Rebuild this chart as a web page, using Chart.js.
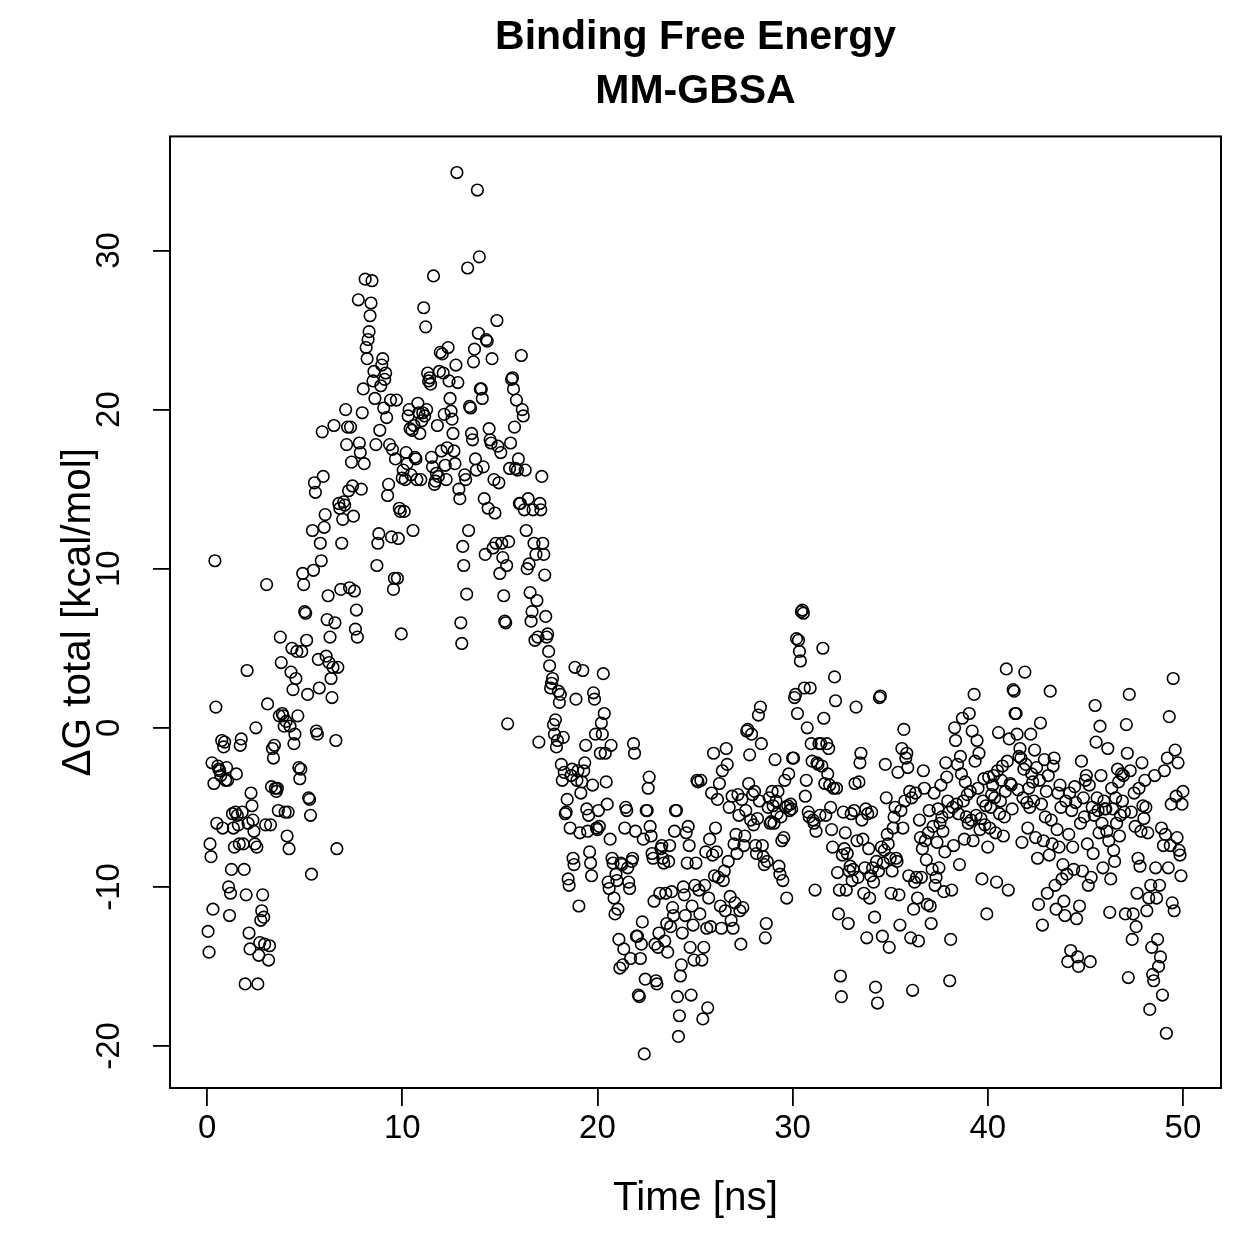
<!DOCTYPE html>
<html>
<head>
<meta charset="utf-8">
<title>Binding Free Energy MM-GBSA</title>
<script src="https://cdn.jsdelivr.net/npm/chart.js@4.4.1/dist/chart.umd.min.js"></script>
<style>
  html, body { margin: 0; padding: 0; background: #fff; }
</style>
</head>
<body>
<canvas id="dgChart" width="1259" height="1259"></canvas>
<script>
// ΔG total per frame; one row = 1 ns (20 frames)
const dg0to10 = [
  -12.8, -14.1, -7.3, -8.1, -2.2, -11.4, -3.5, 10.5, 1.3, -6.0, -2.4, -2.6, -2.7, -3.0, -0.8, -6.3, -1.2, -0.9, -3.3, -2.5,
  -3.3, -10.0, -11.8, -10.4, -8.9, -5.4, -6.3, -7.5, -5.3, -2.9, -5.5, -6.1, -7.3, -1.1, -0.7, -5.3, -7.3, -8.9, -16.1, -10.5,
  3.6, -6.0, -12.9, -13.9, -4.1, -4.9, -5.8, -6.5, -7.3, 0.0, -7.5, -16.1, -14.3, -13.5, -12.1, -11.5, -10.5, -11.9, -13.6, -6.1,
  9.0, 1.5, -14.6, -13.7, -6.1, -3.7, -1.3, -1.9, -1.1, -3.8, -4.0, -3.8, -5.2, 0.75, 5.7, 4.1, 0.9, 0.75, 0.1, -5.3,
  0.4, -6.8, -5.3, -7.6, 0.1, 3.5, 5.0, 2.4, -1.0, -0.4, 3.1, 4.8, 0.75, -2.5, -3.2, -2.6, 4.8, 9.7, 9.0, 7.3,
  7.2, 5.5, 2.1, -4.4, -4.5, -5.5, -9.2, 12.4, 9.9, 15.4, 14.8, -0.2, -0.4, 4.3, 2.5, 11.6, 10.5, 18.6, 15.8, 12.6,
  13.4, 4.5, 6.8, 8.3, 4.1, 5.7, 3.1, 1.9, 3.8, 19.0, 6.6, -0.8, -7.6, 3.8, 14.1, 13.8, 8.7, 11.6, 13.1, 14.2,
  14.0, 20.0, 17.8, 18.9, 14.9, 8.8, 18.9, 16.7, 15.2, 13.3, 8.6, 6.2, 7.4, 5.7, 26.9, 17.9, 17.3, 15.0, 19.8, 21.3,
  16.6, 28.2, 23.9, 23.2, 24.4, 24.9, 25.9, 26.7, 28.1, 21.8, 22.4, 20.7, 17.8, 10.2, 11.6, 12.2, 18.7, 21.5, 22.8, 23.2,
  20.1, 21.9, 22.3, 19.5, 14.6, 15.3, 17.8, 20.6, 12.0, 17.5, 8.7, 9.4, 16.9, 20.6, 9.4, 11.9, 13.8, 13.6, 5.9, 15.7
];
const dg10to20 = [
  16.2, 13.6, 15.6, 17.3, 16.6, 19.6, 20.0, 18.8, 15.9, 18.7, 12.4, 19.0, 17.0, 16.9, 15.6, 20.4, 19.8, 18.5, 15.6, 19.3,
  19.8, 26.4, 19.6, 25.2, 20.0, 22.3, 21.8, 22.0, 21.6, 17.0, 16.4, 28.4, 15.3, 15.5, 16.0, 19.0, 15.8, 22.4, 23.6, 17.4,
  23.5, 22.3, 19.7, 16.5, 15.6, 17.6, 23.9, 21.8, 20.7, 19.9, 19.4, 18.5, 17.4, 16.6, 22.8, 34.9, 21.7, 15.0, 14.4, 6.6,
  5.3, 11.4, 10.2, 15.9, 15.6, 8.4, 28.9, 12.4, 20.2, 20.1, 18.5, 18.1, 23.0, 23.8, 16.9, 16.2, 33.8, 24.8, 29.6, 21.3,
  21.3, 20.7, 16.4, 14.4, 10.9, 24.4, 24.3, 13.8, 18.8, 18.1, 17.9, 23.2, 11.3, 15.6, 13.5, 11.6, 25.6, 17.7, 15.4, 9.7,
  17.3, 11.6, 10.7, 8.3, 6.7, 6.6, 10.2, 0.25, 11.7, 16.3, 17.9, 21.9, 22.0, 21.3, 18.9, 16.3, 20.6, 16.2, 16.9, 14.1,
  14.1, 23.4, 20.0, 19.6, 13.7, 16.2, 12.4, 10.0, 14.4, 10.3, 8.5, 6.7, 7.3, 13.7, 11.6, 5.5, 10.9, 8.0, 5.7, -0.9,
  14.1, 13.7, 15.8, 11.6, 10.9, 9.6, 7.0, 5.7, 5.9, 4.8, 3.9, 2.5, 2.8, 3.1, 0.2, -0.4, 0.5, -1.2, -0.8, 2.3,
  1.6, 2.1, -2.3, -3.3, -0.6, -2.8, -5.4, -5.3, -4.5, -9.5, -9.9, -6.3, -3.0, -2.6, -8.2, -8.6, 3.8, 1.8, -3.3, -2.7,
  -11.2, -6.6, -4.1, -3.4, 3.6, -2.7, -2.2, -1.1, -5.1, -6.5, -5.5, -7.8, -8.5, -9.3, -3.6, 2.2, 1.8, -0.4, -6.3, -6.4
];
const dg20to30 = [
  -5.2, -6.2, -1.6, 0.3, -0.4, 3.4, 0.9, -1.6, -3.4, -4.8, -9.7, -10.1, -7.0, -1.1, -8.2, -8.5, -10.7, -11.7, -9.2, -9.6,
  -11.4, -13.3, -15.1, -8.5, -8.6, -14.9, -13.9, -6.3, -5.0, -5.2, -8.8, -9.7, -10.1, -14.5, -8.4, -8.2, -1.0, -1.6, -6.5, -13.1,
  -13.1, -16.8, -16.9, -14.5, -13.6, -12.2, -7.0, -20.5, -15.8, -5.2, -5.2, -3.8, -3.1, -6.2, -6.8, -7.9, -8.2, -10.9, -13.6, -15.9,
  -16.1, -13.8, -12.9, -10.4, -7.6, -7.4, -8.2, -8.5, -13.4, -10.4, -12.3, -14.1, -8.4, -7.4, -12.5, -10.3, -11.3, -11.8, -6.5, -5.2,
  -5.2, -16.9, -19.4, -18.1, -15.6, -14.9, -12.9, -10.0, -10.5, -11.8, -6.6, -8.5, -6.2, -7.4, -13.8, -16.8, -11.2, -12.4, -14.6, -9.9,
  -8.5, -3.3, -3.4, -10.2, -11.7, -3.3, -14.6, -18.3, -13.8, -9.9, -7.8, -12.6, -17.6, -10.7, -7.0, -12.5, -4.1, -8.0, -1.6, -9.3,
  -6.3, -7.8, -4.5, -9.4, -3.5, -11.2, -12.6, -2.7, -9.6, -9.0, -11.5, -1.3, -2.3, -8.4, -5.0, -10.6, -12.1, -4.3, -12.6, -7.3,
  -11.0, -6.7, -7.9, -4.2, -5.5, -11.5, -13.6, -4.5, -11.3, -7.4, -6.8, -5.2, -0.2, -0.1, -3.5, -1.7, -5.8, -0.4, -4.2, -6.1,
  -4.0, -7.4, -7.9, -5.7, 0.8, -4.6, 1.3, -1.0, -7.4, -8.1, -8.6, -13.2, -12.3, -8.4, -5.0, -4.4, -6.0, -5.9, -4.0, -4.9,
  -6.0, -2.0, -4.6, -5.4, -4.0, -8.7, -9.2, -5.6, -7.1, -9.6, -6.9, -3.3, -5.0, -10.7, -4.9, -2.9, -5.2, -4.8, -5.1, -1.9
];
const dg30to40 = [
  -1.9, 1.9, 2.1, 5.6, 0.9, 5.5, 4.8, 4.2, 7.3, 7.4, 7.2, 2.5, -4.3, -3.3, 0.0, -5.3, -5.6, 2.5, -1.0, -2.1,
  -5.8, -6.0, -10.2, -6.5, -2.2, -2.3, -1.0, -5.5, -1.0, -2.4, 5.0, 0.6, -3.5, -5.5, -1.0, -2.9, -1.3, -3.6, -5.0, -6.4,
  -7.5, -3.8, 3.2, 1.7, -3.8, -9.1, -11.7, -10.2, -15.6, -16.9, -8.0, -5.3, -7.6, -6.6, -10.2, -7.9, -12.3, -9.0, -8.7, -5.4,
  -9.6, -8.9, -5.2, -3.5, 1.3, -7.1, -9.4, -3.4, -2.2, -1.6, -5.8, -7.0, -10.4, -8.8, -5.1, -13.2, -5.4, -7.6, -10.7, -9.3,
  -5.3, -8.8, -9.7, -11.9, -16.3, -8.4, -17.3, -9.0, 1.9, 2.0, -7.5, -13.1, -8.5, -7.7, -2.3, -4.4, -6.7, -7.3, -13.8, -8.2,
  -10.4, -9.0, -6.3, -5.6, -5.0, -8.2, -8.4, -2.8, -10.5, -12.4, -5.2, -1.3, -6.3, -0.1, -4.6, -1.9, -1.6, -2.5, -9.3, -4.0,
  -13.2, -4.4, -16.5, -11.4, -9.7, -4.1, -9.4, -10.7, -13.4, -5.8, -6.9, -9.4, -7.6, -2.7, -3.8, -7.1, -8.3, -11.1, -6.6, -5.2,
  -11.2, -12.3, -8.9, -6.2, -4.1, -9.9, -9.4, -7.2, -5.1, -8.8, -6.0, -3.6, -5.6, -6.5, -10.3, -7.8, -2.2, -3.1, -4.6, -5.3,
  -15.9, -13.3, -10.2, -5.0, -7.4, 0.0, -0.8, -4.8, -2.3, -5.4, -8.6, -1.8, -2.9, 0.6, -4.6, -7.0, -3.4, -5.6, -4.2, -6.0,
  0.9, -4.0, -5.8, -0.2, -7.1, 2.1, -2.1, -5.5, -0.8, -3.8, -1.6, -6.4, -5.7, -9.5, -4.6, -3.2, -6.1, -4.9, -11.7, -7.5
];
const dg40to50 = [
  -3.1, -6.3, -5.0, -4.2, -3.6, -3.0, -4.4, -6.6, -9.7, -2.7, -0.3, -5.4, -4.6, -3.3, -2.4, -6.8, -5.6, -4.0, 3.7, -2.1,
  -10.2, -0.7, -3.5, -3.6, -5.1, 2.4, 2.3, 0.9, 0.9, -0.4, -3.9, -1.8, -1.3, -1.9, -7.2, -4.4, -2.6, 3.5, -2.3, -4.7,
  -6.3, -3.8, -5.0, -0.4, -2.9, -3.4, -4.6, -1.4, -6.9, -2.5, -8.2, -11.1, -3.3, 0.3, -4.8, -12.4, -7.1, -2.0, -5.6, -4.0,
  -10.4, -3.0, -8.0, 2.3, -5.8, -7.3, -2.4, -1.9, -9.9, -11.4, -6.4, -4.1, -7.5, -3.6, -5.0, -9.5, -8.6, -10.9, -11.8, -4.6,
  -9.2, -14.7, -6.7, -4.1, -14.0, -5.2, -7.5, -8.9, -3.7, -4.7, -12.0, -14.4, -15.0, -11.2, -6.0, -2.1, -9.0, -4.4, -5.6, -3.3,
  -3.0, -7.3, -9.9, -3.6, -14.7, -9.4, -5.0, -7.9, -5.5, 1.4, -0.9, -4.4, -5.2, -6.6, 0.1, -3.0, -6.0, -8.8, -4.6, -5.1,
  -5.1, -6.5, -1.3, -7.1, -11.6, -9.5, -3.8, -5.1, -7.7, -8.4, -4.4, -6.0, -2.6, -3.4, -6.8, -5.5, -2.9, -4.6, -3.0, -5.3,
  -11.7, 0.2, -1.6, -15.7, 2.1, -2.7, -5.3, -13.3, -11.7, -4.1, -6.2, -12.5, -10.4, -8.2, -3.8, -8.7, -6.5, -2.2, -4.9, -5.7,
  -3.3, -5.0, -11.5, -6.6, -10.7, -17.7, -9.9, -13.8, -15.5, -15.9, -3.0, -8.8, -10.7, -13.3, -15.0, -9.9, -14.4, -6.3, -16.8, -7.4,
  -2.7, -6.7, -19.2, -1.9, -8.8, 0.7, -7.4, -4.8, -11.0, 3.1, -11.5, -1.4, -4.3, -6.9, -2.2, -7.7, -8.0, -9.3, -4.8, -4.0
];

const frameStep = 0.05; // ns between saved frames
const xTicks = [0, 10, 20, 30, 40, 50];
const yTicks = [-20, -10, 0, 10, 20, 30];
const titleLines = ['Binding Free Energy', 'MM-GBSA'];

const dgTotal = [].concat(dg0to10, dg10to20, dg20to30, dg30to40, dg40to50);
const points = dgTotal.map((v, i) => ({ x: (i + 1) * frameStep, y: v }));

const FONT = "'Liberation Sans', Arial, Helvetica, sans-serif";
Chart.defaults.color = '#000';
Chart.defaults.font.family = FONT;

// R-style closed box around the plot region
const plotBox = {
  id: 'plotBox',
  afterDraw(chart) {
    const { ctx, chartArea: a } = chart;
    ctx.save();
    ctx.strokeStyle = '#000';
    ctx.lineWidth = 2;
    ctx.strokeRect(a.left, a.top, a.right - a.left, a.bottom - a.top);
    ctx.restore();
  }
};

new Chart(document.getElementById('dgChart'), {
  type: 'scatter',
  data: {
    datasets: [{
      data: points,
      pointStyle: 'circle',
      pointRadius: 5.8,
      pointBorderWidth: 1.6,
      borderColor: '#000',
      backgroundColor: 'rgba(0,0,0,0)',
      showLine: false
    }]
  },
  options: {
    responsive: false,
    animation: false,
    layout: { padding: { top: 0, right: 38, bottom: 0, left: 0 } },
    plugins: {
      legend: { display: false },
      tooltip: { enabled: false },
      title: {
        display: true,
        text: titleLines,
        fullSize: false,
        color: '#000',
        font: { family: FONT, size: 41, weight: 'bold', lineHeight: 1.31 },
        padding: { top: 11, bottom: 18 }
      }
    },
    scales: {
      x: {
        type: 'linear',
        min: -1.9,
        max: 51.95,
        afterBuildTicks: (s) => { s.ticks = xTicks.map(v => ({ value: v })); },
        afterFit: (s) => { s.height = 171; },
        border: { display: false },
        grid: { drawOnChartArea: false, drawTicks: true, tickLength: 18, color: '#000', lineWidth: 1.8 },
        ticks: { color: '#000', font: { size: 33 }, padding: 3, maxRotation: 0, autoSkip: false },
        title: { display: true, text: 'Time [ns]', color: '#000', font: { size: 40.5 }, padding: { top: 0, bottom: 36 } }
      },
      y: {
        type: 'linear',
        min: -22.64,
        max: 37.17,
        afterBuildTicks: (s) => { s.ticks = yTicks.map(v => ({ value: v })); },
        afterFit: (s) => { s.width = 170; },
        border: { display: false },
        grid: { drawOnChartArea: false, drawTicks: true, tickLength: 17, color: '#000', lineWidth: 1.8 },
        ticks: { color: '#000', font: { size: 33 }, padding: 19, minRotation: 90, maxRotation: 90, crossAlign: 'center', autoSkip: false },
        title: { display: true, text: 'ΔG total [kcal/mol]', color: '#000', font: { size: 40.5 }, padding: { top: 55, bottom: 0 } }
      }
    }
  },
  plugins: [plotBox]
});
</script>
</body>
</html>
